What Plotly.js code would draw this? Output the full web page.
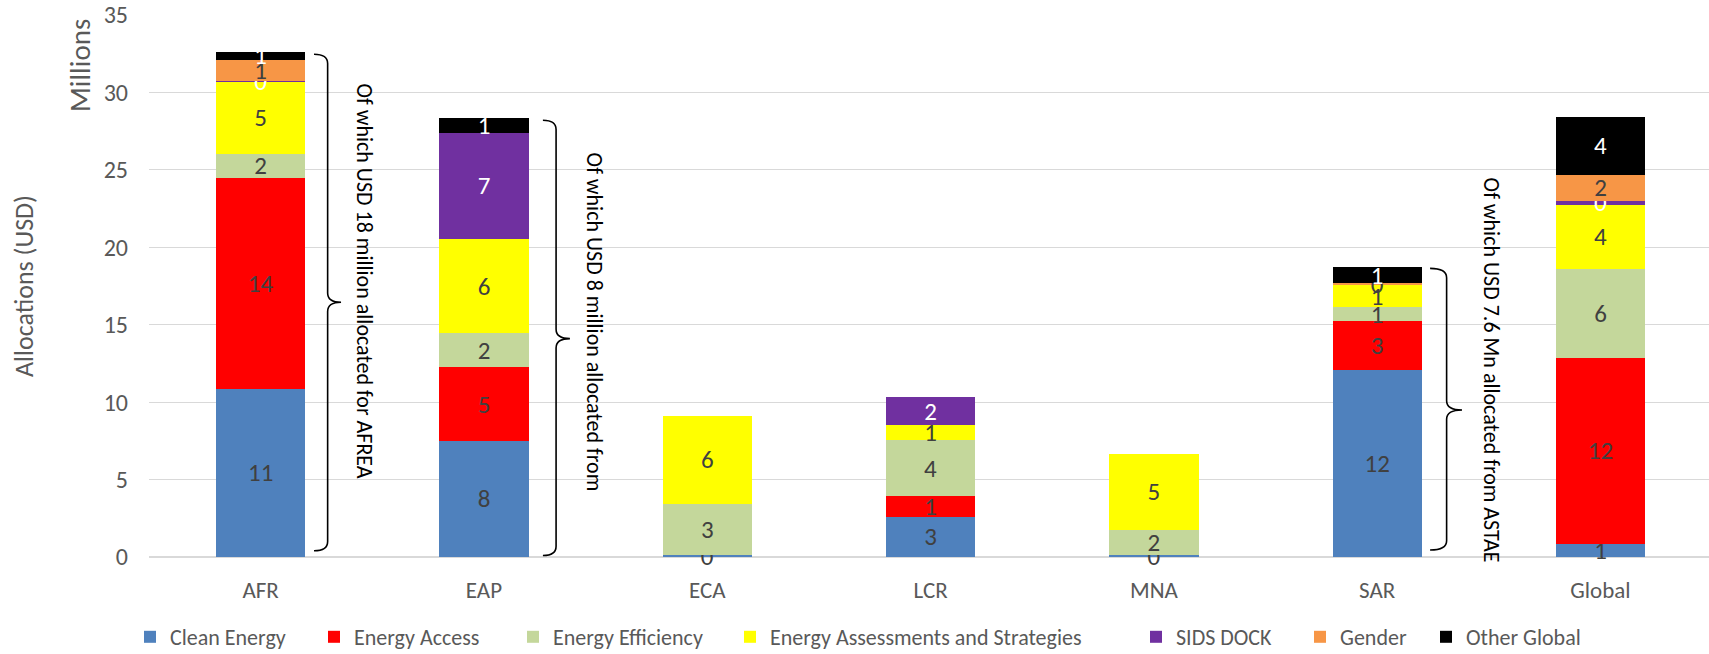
<!DOCTYPE html>
<html><head><meta charset="utf-8">
<script src="https://cdn.plot.ly/plotly-3.0.1.min.js"></script>
<style>html,body{margin:0;padding:0;background:#fff}#chart{width:1709px;height:654px}</style>
</head><body><div id="chart"></div>
<script>
// ---- data ----
const categories = ['AFR', 'EAP', 'ECA', 'LCR', 'MNA', 'SAR', 'Global'];
const cleanEnergy       = [10.87, 7.5, 0.12, 2.61, 0.1, 12.1, 0.85];
const energyAccess      = [13.63, 4.75, null, 1.31, null, 3.11, 12.0];
const energyEfficiency  = [1.52, 2.2, 3.33, 3.62, 1.67, 0.91, 5.76];
const energyAssessments = [4.66, 6.1, 5.68, 0.96, 4.89, 1.46, 4.13];
const sidsDock          = [0.05, 6.85, null, 1.83, null, null, 0.28];
const gender            = [1.39, null, null, null, null, 0.11, 1.64];
const otherGlobal       = [0.51, 0.95, null, null, null, 1.03, 3.77];
const seriesNames = ['Clean Energy', 'Energy Access', 'Energy Efficiency',
  'Energy Assessments and Strategies', 'SIDS DOCK', 'Gender', 'Other Global'];
const yTickVals = [0, 5, 10, 15, 20, 25, 30, 35];
const noteTexts = ['Of which USD 18 million allocated for AFREA',
  'Of which USD 8 million allocated from',
  'Of which USD 7.6 Mn allocated from ASTAE'];

// ---- styles ----
const FONT = 'Carlito, Calibri, Lato, sans-serif';
const seriesColors = ['#4F81BD', '#FF0000', '#C4D79B', '#FFFF00', '#7030A0', '#F79646', '#000000'];
const labelColors = ['#404040', '#404040', '#404040', '#404040', '#FFFFFF', '#404040', '#FFFFFF'];
const seriesValues = [cleanEnergy, energyAccess, energyEfficiency, energyAssessments, sidsDock, gender, otherGlobal];
const legendSquareCenters = [146, 330, 529, 746, 1152, 1316, 1442];

const traces = seriesValues.map((vals, i) => ({
  type: 'bar',
  name: seriesNames[i],
  x: categories,
  y: vals,
  marker: {color: seriesColors[i]},
  texttemplate: '%{y:.0f}',
  textposition: 'inside',
  insidetextanchor: 'middle',
  textangle: 0,
  constraintext: 'none',
  cliponaxis: false,
  textfont: {family: FONT, size: 25, color: labelColors[i]},
  legend: i === 0 ? 'legend' : 'legend' + (i + 1),
  showlegend: true,
  hoverinfo: 'name+y'
}));

const PLOT_L = 149, PLOT_W = 1560;
const layout = {
  width: 1709, height: 654,
  margin: {l: PLOT_L, r: 0, t: 15, b: 97, autoexpand: false},
  paper_bgcolor: '#fff', plot_bgcolor: '#fff',
  showlegend: true,
  barmode: 'stack', bargap: 0.6,
  font: {family: FONT, size: 20, color: '#595959'},
  xaxis: {
    type: 'category', range: [-0.5, 6.486], fixedrange: true,
    showgrid: false, zeroline: false, showline: false, ticks: '',
    ticklabelstandoff: 17, automargin: false,
    tickfont: {family: FONT, size: 23, color: '#595959'}
  },
  yaxis: {
    range: [0, 35], tickvals: yTickVals, fixedrange: true,
    showgrid: true, gridcolor: '#D9D9D9', gridwidth: 1.3,
    zeroline: true, zerolinecolor: '#D9D9D9', zerolinewidth: 1.5,
    showline: false, ticks: '', ticklabelstandoff: 20,
    tickfont: {family: FONT, size: 24, color: '#595959'},
    automargin: false,
    title: {text: 'Allocations (USD)', standoff: 62, font: {family: FONT, size: 26, color: '#595959'}}
  },
  shapes: [],
  annotations: [
    {text: 'Millions', xref: 'paper', yref: 'paper', x: (80 - PLOT_L) / PLOT_W, y: (557 - 66) / 542,
     textangle: -90, showarrow: false, xanchor: 'center', yanchor: 'middle',
     font: {family: FONT, size: 29, color: '#595959'}}
  ]
};

seriesNames.forEach((n, i) => {
  const key = i === 0 ? 'legend' : 'legend' + (i + 1);
  layout[key] = {
    orientation: 'h', xanchor: 'left', yanchor: 'middle',
    x: (legendSquareCenters[i] - 16 - PLOT_L) / PLOT_W, y: (557 - 637) / 542,
    bgcolor: 'rgba(0,0,0,0)', font: {family: FONT, size: 22, color: '#595959'}
  };
});

function brace(xs, xv, xt, yT, yM, yB, ry) {
  return `M${xs},${yT} Q${xv},${yT} ${xv},${yT - ry} L${xv},${yM + ry} Q${xv},${yM} ${xt},${yM} ` +
         `Q${xv},${yM} ${xv},${yM - ry} L${xv},${yB + ry} Q${xv},${yB} ${xs},${yB}`;
}
const braces = [
  {xs: 0.239, xv: 0.300, xt: 0.36, yT: 32.47, yM: 16.45, yB: 0.4, tx: 0.467, ty: 17.8},
  {xs: 1.264, xv: 1.323, xt: 1.385, yT: 28.2, yM: 14.1, yB: 0.1, tx: 1.493, ty: 15.2},
  {xs: 5.237, xv: 5.311, xt: 5.38, yT: 18.64, yM: 9.49, yB: 0.45, tx: 5.51, ty: 12.1}
];
braces.forEach((b, i) => {
  layout.shapes.push({type: 'path', xref: 'x', yref: 'y', path: brace(b.xs, b.xv, b.xt, b.yT, b.yM, b.yB, 0.6),
    line: {color: '#000', width: 1.6}});
  layout.annotations.push({text: noteTexts[i], xref: 'x', yref: 'y', x: b.tx, y: b.ty, textangle: 90,
    showarrow: false, xanchor: 'center', yanchor: 'middle', font: {family: FONT, size: 22, color: '#000'}});
});

Plotly.newPlot('chart', traces, layout, {displayModeBar: false, staticPlot: false});
</script>
</body></html>
